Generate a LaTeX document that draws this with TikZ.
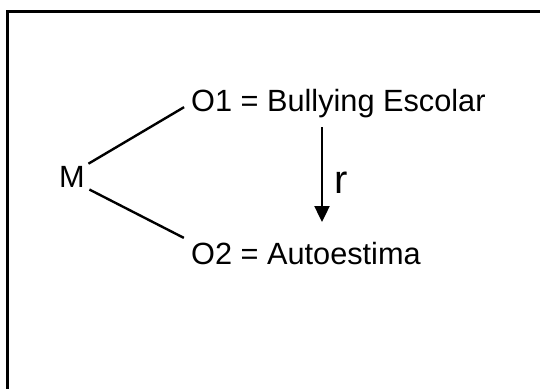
\documentclass[tikz,border=0pt]{standalone}
\usepackage{fontspec}
\setmainfont{Liberation Sans}
\usetikzlibrary{calc, positioning, arrows.meta}

\begin{document}
\begin{tikzpicture}[x=1pt, y=-1pt, >={Triangle[length=16pt, width=15pt]},
  lbl/.style={inner sep=0pt, font=\fontsize{30.7}{37}\selectfont},
  link/.style={line width=2.4pt}]
  \useasboundingbox (0,0) rectangle (540,389);

  % Frame: only the top and left edges show
  \draw[line width=2.6pt] (540,11.5) -| (7.5,389);

  % Sample
  \node[lbl] (M) at (72,176.5) {M};

  % Observations
  \node[lbl, anchor=base west] (O1) at (191,111) {O1 = Bullying Escolar};
  \node[lbl, anchor=base west] (O2) at (191,264) {O2 = Autoestima};

  % Relation between O1 and O2
  \coordinate (rtop) at (322,127);
  \coordinate (rbot) at (322,222);
  \node[inner sep=0pt, font=\fontsize{40}{48}\selectfont] (r) at (341,182.5) {r};

  % Connections
  \draw[link, shorten <=4pt, shorten >=8pt] (M.north east) -- (O1.west);
  \draw[link, shorten <=5pt, shorten >=8pt] (M.south east) -- (O2.north west);
  \draw[link, ->] (rtop) -- (rbot);
\end{tikzpicture}
\end{document}
